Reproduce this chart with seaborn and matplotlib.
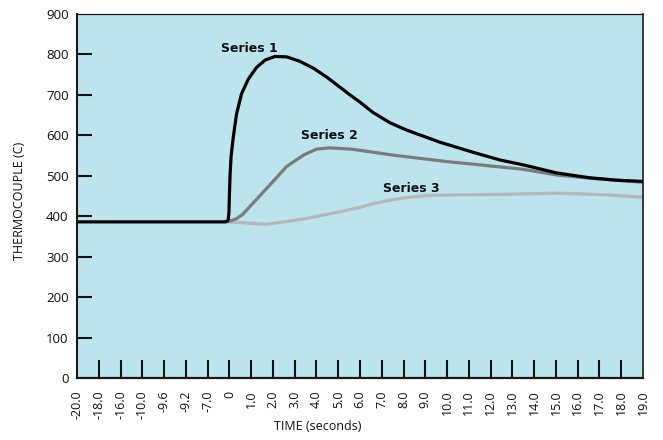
import matplotlib
matplotlib.use("Agg")
import matplotlib.pyplot as plt
import seaborn as sns
import pandas as pd

# Category labels along the time axis (one slot per label)
time_labels = ["-20.0", "-18.0", "-16.0", "-10.0", "-9.6", "-9.2", "-7.0", "0",
               "1.0", "2.0", "3.0", "4.0", "5.0", "6.0", "7.0", "8.0", "9.0",
               "10.0", "11.0", "12.0", "13.0", "14.0", "15.0", "16.0", "17.0",
               "18.0", "19.0"]

# Thermocouple traces: position along the category axis and reading (C)
s1_pos = [0, 6.80, 6.90, 6.95, 6.98, 7.00, 7.03, 7.08, 7.18, 7.33, 7.56, 7.87,
          8.25, 8.64, 9.09, 9.63, 10.24, 10.86, 11.47, 12.08, 12.54, 13.0,
          13.61, 14.38, 15.14, 16.67, 18.20, 19.43, 20.50, 22.03, 23.56, 24.80,
          26.0]
s1_val = [386, 386, 388, 392, 410, 450, 500, 550, 596, 653, 703, 739,
          768, 786, 795, 794, 783, 766, 744, 719, 700, 682,
          656, 631, 613, 583, 558, 539, 527, 507, 495, 489,
          486]

s2_pos = [6.80, 7.02, 7.30, 7.60, 8.10, 8.87, 9.63, 10.40, 11.01, 11.62, 12.54,
          13.0, 14.53, 17.0, 19.43, 20.50, 22.03, 23.56, 26.0]
s2_val = [386, 388, 393, 404, 433, 478, 523, 551, 566, 569, 566,
          563, 551, 535, 522, 516, 502, 494, 484]

s3_pos = [6.80, 7.02, 8.71, 10.40, 12.08, 13.0, 13.61, 14.40, 15.14, 16.06,
          17.50, 19.43, 22.03, 24.33, 26.0]
s3_val = [386, 386, 380, 393, 411, 422, 431, 440, 446, 451,
          453, 454, 457, 453, 447]

series_names = ["Series 1", "Series 2", "Series 3"]
series_colors = ["#000000", "#7b7b7b", "#b7b7b7"]

sns.set_theme(style="ticks")
plt.rcParams["font.family"] = ["Open Sans", "DejaVu Sans"]

fig = plt.figure(figsize=(6.63, 4.40), dpi=100)
ax = fig.add_axes([77 / 663, 1 - 378 / 440, 566 / 663, 364 / 440])
ax.set_facecolor("#bce4ec")

traces = [(s3_pos, s3_val, 2), (s2_pos, s2_val, 1), (s1_pos, s1_val, 0)]
for pos, val, i in traces:
    df = pd.DataFrame({"pos": pos, "temp": val})
    sns.lineplot(data=df, x="pos", y="temp", ax=ax, color=series_colors[i],
                 linewidth=2.3, estimator=None, sort=False,
                 solid_capstyle="butt", solid_joinstyle="round")

# Series labels
label_spots = {"Series 1": (7.9, 815), "Series 2": (11.6, 600), "Series 3": (15.35, 469)}
for name, (x, y) in label_spots.items():
    ax.text(x, y, name, ha="center", va="center", fontsize=9,
            fontweight="bold", color="#111111", family="DejaVu Sans")

ax.set_xlim(0, len(time_labels) - 1)
ax.set_ylim(0, 900)
ax.set_xticks(range(len(time_labels)))
ax.set_xticklabels(time_labels, rotation=90, fontsize=9)
ax.set_yticks(range(0, 901, 100))
ax.set_yticklabels([str(v) for v in range(0, 901, 100)], fontsize=9.5)

ax.tick_params(axis="x", direction="in", length=13, width=1.5, pad=9,
               color="#111111", labelcolor="#111111")
ax.tick_params(axis="y", direction="in", length=11, width=1.5, pad=6,
               color="#111111", labelcolor="#111111")

# no tick marks where the axis ends meet the frame
for axis in (ax.xaxis, ax.yaxis):
    ticks = axis.get_major_ticks()
    for t in (ticks[0], ticks[-1]):
        t.tick1line.set_visible(False)

for side, lw in [("left", 1.5), ("bottom", 1.6), ("top", 0.9), ("right", 1.2)]:
    ax.spines[side].set_visible(True)
    ax.spines[side].set_linewidth(lw)
    ax.spines[side].set_color("#1a1a1a")

ax.set_xlabel("TIME (seconds)", fontsize=9, color="#111111")
ax.xaxis.set_label_coords((318 - 77) / 566, -(420 - 378) / 364)
ax.set_ylabel("THERMOCOUPLE (C)", fontsize=9, color="#111111")
ax.yaxis.set_label_coords(-(77 - 26) / 566, 0.486)

fig.savefig("out.png", dpi=100, facecolor="white")
